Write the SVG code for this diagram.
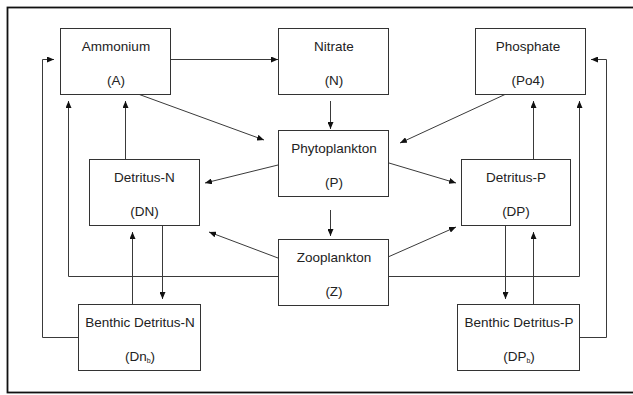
<svg xmlns="http://www.w3.org/2000/svg" width="633" height="395" viewBox="0 0 633 395">
<style>
.box{fill:#fff;stroke:#333;stroke-width:1}
.t{font-family:"Liberation Sans",Arial,sans-serif;font-size:13.5px;fill:#222;text-anchor:middle}
.sub{font-size:7px}
.c{fill:none;stroke:#3a3a3a;stroke-width:1;marker-end:url(#ah)}
</style>
<defs>
<marker id="ah" markerUnits="userSpaceOnUse" markerWidth="7" markerHeight="6" refX="7" refY="3" orient="auto">
<path d="M0,0 L7,3 L0,6 z" fill="#111"/>
</marker>
</defs>
<rect x="0" y="0" width="633" height="395" fill="#fff"/>
<rect x="7.5" y="7.5" width="640" height="385" fill="none" stroke="#111" stroke-width="1.8"/>
<g id="connectors">
<path class="c" d="M170,59.5 L278,59.5"/>
<path class="c" d="M330.5,101 L330.5,129"/>
<path class="c" d="M138,94 L264,140"/>
<path class="c" d="M506,94 L400,143"/>
<path class="c" d="M278,165 L205,183"/>
<path class="c" d="M389,163 L456,183"/>
<path class="c" d="M125.5,159 L125.5,101"/>
<path class="c" d="M533.5,159 L533.5,101"/>
<path class="c" d="M278,258 L209,232"/>
<path class="c" d="M388,257 L456,227"/>
<path class="c" d="M330.5,210 L330.5,236"/>
<path class="c" d="M278,276.5 L68.5,276.5 L68.5,101"/>
<path class="c" d="M388,276.5 L579.5,276.5 L579.5,101"/>
<path class="c" d="M78,337.5 L42.5,337.5 L42.5,59.5 L54,59.5"/>
<path class="c" d="M579,337.5 L606.5,337.5 L606.5,59.5 L591,59.5"/>
<path class="c" d="M162.5,226 L162.5,299"/>
<path class="c" d="M132.5,304 L132.5,232"/>
<path class="c" d="M505.5,226 L505.5,299"/>
<path class="c" d="M533.5,304 L533.5,232"/>
</g>
<g id="ammonium">
<rect class="box" x="60.5" y="28.5" width="110" height="66"/>
<text class="t" x="116" y="51">Ammonium</text>
<text class="t" x="116" y="84.5">(A)</text>
</g>
<g id="nitrate">
<rect class="box" x="278.5" y="28.5" width="110" height="66"/>
<text class="t" x="334" y="51">Nitrate</text>
<text class="t" x="334" y="84.5">(N)</text>
</g>
<g id="phosphate">
<rect class="box" x="475.5" y="28.5" width="110" height="66"/>
<text class="t" x="528" y="51">Phosphate</text>
<text class="t" x="528" y="84.5">(Po4)</text>
</g>
<g id="phytoplankton">
<rect class="box" x="278.5" y="130.5" width="110" height="66"/>
<text class="t" x="334" y="153">Phytoplankton</text>
<text class="t" x="334" y="186.5">(P)</text>
</g>
<g id="detritus-n">
<rect class="box" x="89.5" y="159.5" width="110" height="66"/>
<text class="t" x="144.5" y="182">Detritus-N</text>
<text class="t" x="144.5" y="215.5">(DN)</text>
</g>
<g id="detritus-p">
<rect class="box" x="461.5" y="159.5" width="109" height="66"/>
<text class="t" x="516" y="182">Detritus-P</text>
<text class="t" x="516" y="215.5">(DP)</text>
</g>
<g id="zooplankton">
<rect class="box" x="278.5" y="239.5" width="110" height="66"/>
<text class="t" x="334" y="262">Zooplankton</text>
<text class="t" x="334" y="295.5">(Z)</text>
</g>
<g id="benthic-n">
<rect class="box" x="78.5" y="304.5" width="122" height="66"/>
<text class="t" x="140" y="327">Benthic Detritus-N</text>
<text class="t" x="140" y="360.5">(Dn<tspan class="sub" dy="2">b</tspan><tspan dy="-2">)</tspan></text>
</g>
<g id="benthic-p">
<rect class="box" x="457.5" y="304.5" width="122" height="66"/>
<text class="t" x="519" y="327">Benthic Detritus-P</text>
<text class="t" x="519" y="360.5">(DP<tspan class="sub" dy="2">b</tspan><tspan dy="-2">)</tspan></text>
</g>
</svg>
